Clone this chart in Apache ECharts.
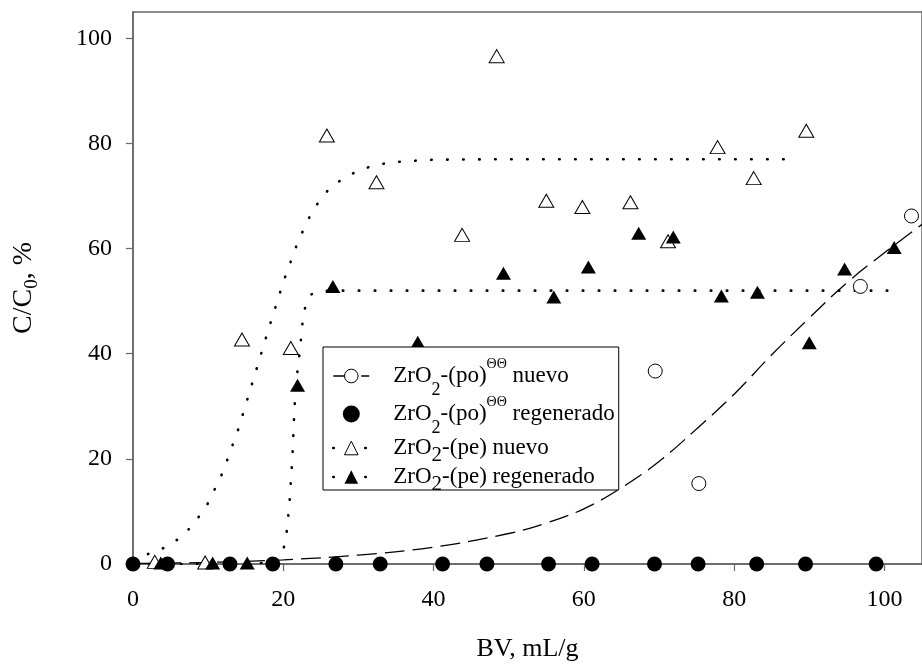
<!DOCTYPE html>
<html>
<head>
<meta charset="utf-8">
<script src="https://cdn.jsdelivr.net/npm/echarts@6/dist/echarts.min.js"></script>
<style>
html, body { margin: 0; padding: 0; background: #fff; }
#main { width: 922px; height: 667px; }
</style>
</head>
<body>
<div id="main"></div>
<script>
// datos
let seriesNames = ['ZrO2-(po)ΘΘ nuevo', 'ZrO2-(po)ΘΘ regenerado', 'ZrO2-(pe) nuevo', 'ZrO2-(pe) regenerado'];
let xTicks = [0, 20, 40, 60, 80, 100];
let yTicks = [0, 20, 40, 60, 80, 100];

let poNuevoX = [69.5, 75.3, 96.8, 103.6];
let poNuevoY = [36.7, 15.3, 52.8, 66.2];

let poRegenX = [0, 4.6, 12.9, 18.6, 27, 32.9, 41.2, 47.1, 55.3, 61.1, 69.4, 75.2, 83, 89.5, 98.9];
let poRegenY = [0, 0, 0, 0, 0, 0, 0, 0, 0, 0, 0, 0, 0, 0, 0];

let peNuevoX = [2.9, 9.6, 14.5, 21.0, 25.8, 32.4, 43.8, 48.4, 55.0, 59.8, 66.2, 71.2, 77.8, 82.6, 89.6];
let peNuevoY = [0.4, 0.3, 42.7, 41.1, 81.5, 72.6, 62.6, 96.6, 69.1, 67.9, 68.8, 61.4, 79.3, 73.4, 82.4];

let peRegenX = [3.7, 10.6, 15.2, 21.9, 26.6, 37.9, 49.3, 56.0, 60.6, 67.3, 71.9, 78.3, 83.1, 90.0, 94.7, 101.3];
let peRegenY = [0.2, 0.2, 0.2, 34.0, 52.8, 42.2, 55.3, 50.8, 56.5, 62.9, 62.2, 51.0, 51.7, 42.1, 56.1, 60.2];

// curvas de ajuste
let poFitX = [0, 10, 20, 30, 40, 50, 55, 60, 65, 70, 75, 80, 85, 90, 95, 100, 105];
let poFitY = [0.1, 0.3, 0.8, 1.7, 3.2, 5.8, 7.8, 10.5, 14.5, 19.5, 25.7, 32.3, 39.8, 46.8, 53.5, 59.2, 64.6];

let peNuevoFitX = [0, 2, 4, 6, 8, 10, 12, 14, 16, 18, 20, 22, 24, 26, 28, 30, 32, 34, 36, 40, 50, 60, 70, 80, 88.5];
let peNuevoFitY = [0.8, 1.9, 3.0, 4.7, 7.4, 11.6, 17.6, 25.6, 35.0, 44.5, 53.6, 61.5, 67.5, 71.2, 73.4, 74.8, 75.8, 76.3, 76.6, 76.9, 77.0, 77.0, 77.0, 77.0, 77.0];

let peRegenFitX = [0, 10, 18, 19.6, 20.0, 20.4, 20.8, 21.2, 21.5, 21.8, 22.2, 22.6, 23.0, 23.6, 24.5, 26, 30, 40, 60, 80, 100.6];
let peRegenFitY = [0, 0, 0.2, 1.0, 2.6, 5.4, 11.0, 20.0, 30.0, 35.6, 40.5, 46.5, 49.5, 51.2, 51.8, 52, 52, 52, 52, 52, 52];


function pairs(xs, ys) {
    return xs.map(function (x, i) { return [x, ys[i]]; });
}

let font = 'Liberation Serif';
let dashed = {color: '#000', width: 1.3, type: [20, 8]};
let dotted = {color: '#000', width: 2.6, type: [0.5, 15.5], cap: 'round'};
let openStyle = {color: '#fff', borderColor: '#000', borderWidth: 1, opacity: 1};
let fullStyle = {color: '#000', borderColor: '#000', borderWidth: 0, opacity: 1};

let myChart = echarts.init(document.getElementById('main'));

let option = {
    animation: false,
    backgroundColor: '#fff',
    grid: {
        left: 133, right: -3, top: 12, bottom: 102,
        show: true, borderColor: '#666', borderWidth: 1.5
    },
    legend: {
        orient: 'vertical',
        left: 323,
        top: 347,
        selectedMode: false,
        itemWidth: 36,
        itemHeight: 17,
        itemGap: -4,
        padding: [10, 4, -5, 9],
        borderColor: '#000',
        borderWidth: 1,
        borderRadius: 0,
        backgroundColor: '#fff',
        data: [
            {name: seriesNames[0], itemStyle: openStyle, lineStyle: dashed},
            {name: seriesNames[1], icon: 'circle', itemStyle: fullStyle},
            {name: seriesNames[2], itemStyle: openStyle, lineStyle: dotted},
            {name: seriesNames[3], itemStyle: fullStyle, lineStyle: dotted}
        ],
        formatter: function (name) {
            let sub = name.indexOf('(pe)') > -1 ? '{subB|2}' : '{sub|2}';
            return name.replace('2', sub).replace('ΘΘ', '{sup|ΘΘ}');
        },
        textStyle: {
            fontFamily: font, fontSize: 23, color: '#000', lineHeight: 30,
            padding: [0, 0, 0, 19],
            rich: {
                sub: {fontFamily: font, fontSize: 18, color: '#000', verticalAlign: 'bottom', lineHeight: 8, padding: [0, 0, -8, 0]},
                subB: {fontFamily: font, fontSize: 21, color: '#000', verticalAlign: 'bottom', lineHeight: 8, padding: [0, 0, -3, 0]},
                sup: {fontFamily: font, fontSize: 14, color: '#000', verticalAlign: 'top', lineHeight: 8, padding: [-4, 0, 0, 0]}
            }
        }
    },
    xAxis: {
        type: 'value',
        min: 0,
        max: 105,
        interval: 20,
        name: 'BV, mL/g',
        nameLocation: 'middle',
        nameGap: 72,
        nameTextStyle: {fontFamily: font, fontSize: 26, color: '#000'},
        axisLine: {show: true, onZero: false, lineStyle: {color: '#666', width: 1.5}},
        axisTick: {show: true, length: 7, lineStyle: {color: '#666', width: 1.2}},
        axisLabel: {
            fontFamily: font, fontSize: 24, color: '#000', margin: 24,
            showMaxLabel: false,
            formatter: function (v) { return xTicks.indexOf(v) > -1 ? String(v) : ''; }
        },
        splitLine: {show: false}
    },
    yAxis: {
        type: 'value',
        min: 0,
        max: 105,
        interval: 20,
        name: 'C/C{sub|0}, %',
        nameLocation: 'middle',
        nameGap: 95,
        nameTextStyle: {
            fontFamily: font, fontSize: 28, color: '#000',
            rich: {sub: {fontFamily: font, fontSize: 19, color: '#000', verticalAlign: 'bottom', lineHeight: 8, padding: [0, 0, -4, 0]}}
        },
        axisLine: {show: true, onZero: false, lineStyle: {color: '#666', width: 1.5}},
        axisTick: {show: true, length: 7, lineStyle: {color: '#666', width: 1.2}},
        axisLabel: {
            fontFamily: font, fontSize: 24, color: '#000', margin: 21,
            showMaxLabel: false,
            formatter: function (v) { return yTicks.indexOf(v) > -1 ? String(v) : ''; }
        },
        splitLine: {show: false}
    },
    series: [
        // ajustes
        {
            name: seriesNames[0], type: 'line', data: pairs(poFitX, poFitY),
            smooth: 0.4, showSymbol: false, symbol: 'circle',
            lineStyle: dashed, itemStyle: openStyle, silent: true, z: 1
        },
        {
            name: seriesNames[2], type: 'line', data: pairs(peNuevoFitX, peNuevoFitY),
            showSymbol: false, symbol: 'triangle',
            lineStyle: dotted, itemStyle: openStyle, silent: true, z: 1
        },
        {
            name: seriesNames[3], type: 'line', data: pairs(peRegenFitX, peRegenFitY),
            showSymbol: false, symbol: 'triangle',
            lineStyle: dotted, itemStyle: fullStyle, silent: true, z: 1
        },
        // puntos
        {
            name: seriesNames[1], type: 'scatter', data: pairs(poRegenX, poRegenY),
            symbol: 'circle', symbolSize: 15, itemStyle: fullStyle, z: 3
        },
        {
            name: seriesNames[0], type: 'scatter', data: pairs(poNuevoX, poNuevoY),
            symbol: 'circle', symbolSize: 14, itemStyle: openStyle, z: 3
        },
        {
            name: seriesNames[2], type: 'scatter', data: pairs(peNuevoX, peNuevoY),
            symbol: 'triangle', symbolSize: [15, 13], itemStyle: openStyle, z: 3
        },
        {
            name: seriesNames[3], type: 'scatter', data: pairs(peRegenX, peRegenY),
            symbol: 'triangle', symbolSize: [15, 13], itemStyle: fullStyle, z: 3
        }
    ]
};
myChart.setOption(option);
</script>
</body>
</html>
